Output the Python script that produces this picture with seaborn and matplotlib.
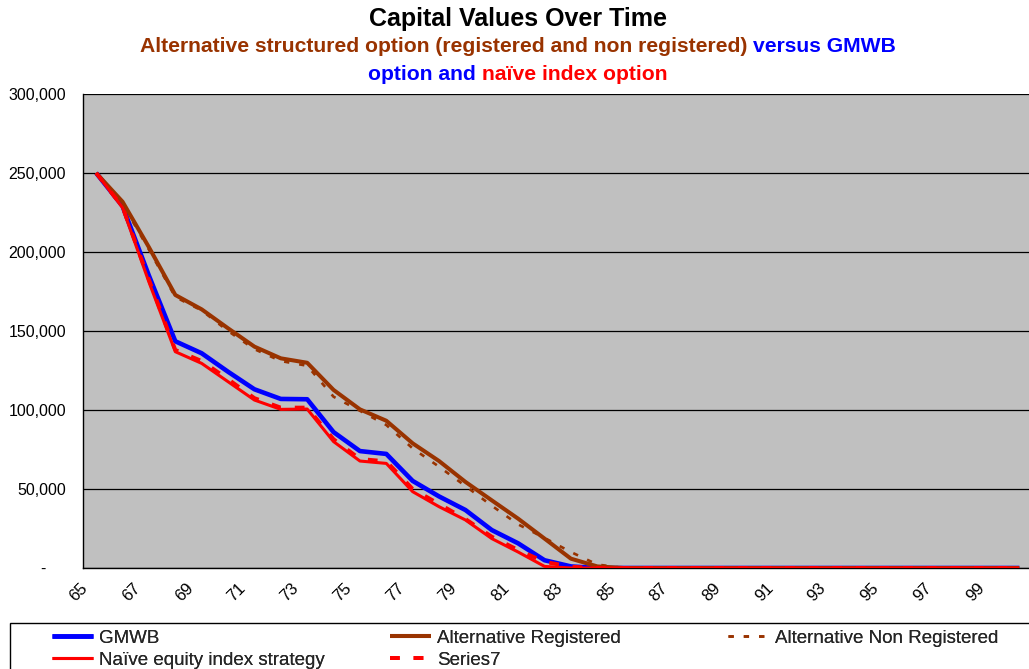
import matplotlib
matplotlib.use("Agg")
import matplotlib.pyplot as plt
import numpy as np
import pandas as pd
import seaborn as sns
from matplotlib.transforms import ScaledTranslation
from matplotlib.patches import Rectangle
from matplotlib.ticker import FixedLocator, FuncFormatter

# ---------------- data ----------------
ages = [65, 66, 67, 68, 69, 70, 71, 72, 73, 74, 75, 76, 77, 78, 79, 80, 81, 82,
        83, 84, 85, 86, 87, 88, 89, 90, 91, 92, 93, 94, 95, 96, 97, 98, 99, 100]

gmwb = [250000, 229000, 185000, 143500, 135900, 124200, 113100, 107000, 106800,
        86000, 74000, 72200, 55100, 45300, 36700, 24000, 15600, 4900, 1000,
        0, 0, 0, 0, 0, 0, 0, 0, 0, 0, 0, 0, 0, 0, 0, 0, 0]

alt_registered = [250000, 231800, 203000, 172800, 163700, 151700, 140100, 132700,
                  129900, 112700, 100400, 93200, 78900, 67700, 54500, 42800, 31200,
                  18600, 5900, 1000,
                  0, 0, 0, 0, 0, 0, 0, 0, 0, 0, 0, 0, 0, 0, 0, 0]

alt_non_registered = [250000, 230500, 201500, 171500, 163000, 150000, 138500, 131000,
                      128000, 108400, 99500, 90500, 75700, 64100, 51900, 39400, 27600,
                      19000, 10100, 2200,
                      0, 0, 0, 0, 0, 0, 0, 0, 0, 0, 0, 0, 0, 0, 0, 0]

naive = [250000, 228000, 181000, 136900, 129500, 117900, 106300, 100400, 100600,
         80000, 67700, 66200, 48300, 38800, 30400, 18600, 10100, 1000,
         0, 0, 0, 0, 0, 0, 0, 0, 0, 0, 0, 0, 0, 0, 0, 0, 0, 0]

series7 = [250000, 228500, 182500, 138000, 131000, 119500, 107500, 101500, 101500,
           81500, 69000, 67500, 50000, 40500, 31000, 19800, 11400, 3900, 800,
           0, 0, 0, 0, 0, 0, 0, 0, 0, 0, 0, 0, 0, 0, 0, 0, 0]

series_names = ["GMWB", "Alternative Registered", "Alternative Non Registered",
                "Naïve equity index strategy", "Series7"]
series_values = [gmwb, alt_registered, alt_non_registered, naive, series7]

y_ticks = [0, 50000, 100000, 150000, 200000, 250000, 300000]
x_label_ages = [65, 67, 69, 71, 73, 75, 77, 79, 81, 83, 85, 87, 89, 91, 93, 95, 97, 99]

title = "Capital Values Over Time"
subtitle_line1 = [("Alternative structured option (registered and non registered)", "#993300"),
                  ("versus GMWB", "#0000FF")]
subtitle_line2 = [("option and", "#0000FF"), ("naïve index option", "#FF0000")]

# ---------------- styles ----------------
BLUE, BROWN, RED = "#0000FF", "#993300", "#FF0000"
styles = {
    "GMWB": dict(color=BLUE, lw=3.3, ls="-"),
    "Alternative Registered": dict(color=BROWN, lw=2.9, ls="-"),
    "Alternative Non Registered": dict(color=BROWN, lw=1.9, ls=(0, (3.8, 7.2))),
    "Naïve equity index strategy": dict(color=RED, lw=2.2, ls="-"),
    "Series7": dict(color=RED, lw=2.8, ls=(0, (7.0, 10.0))),
}

sns.set_style("white")
plt.rcParams["font.family"] = ["Liberation Sans", "DejaVu Sans"]
plt.rcParams["lines.scale_dashes"] = False
plt.rcParams["lines.solid_joinstyle"] = "round"
plt.rcParams["lines.solid_capstyle"] = "butt"

W, H = 1029, 669
fig = plt.figure(figsize=(W / 100, H / 100), dpi=100)
fig.patch.set_facecolor("white")

# axes spanning past the right edge (cropped like the reference)
ax_left, ax_right, ax_top, ax_bottom = 83, 1032.5, 94, 568
ax = fig.add_axes([ax_left / W, (H - ax_bottom) / H,
                   (ax_right - ax_left) / W, (ax_bottom - ax_top) / H])
ax.set_facecolor("#C0C0C0")

df = pd.DataFrame({
    "Age": ages * len(series_names),
    "Value": [v for vals in series_values for v in vals],
    "Series": [n for n, vals in zip(series_names, series_values) for _ in vals],
})

lines = {}
for name in series_names:
    st = styles[name]
    sub = df[df["Series"] == name]
    sns.lineplot(data=sub, x="Age", y="Value", ax=ax, color=st["color"],
                 linewidth=st["lw"], linestyle=st["ls"], label=name, legend=False,
                 zorder=3)
    lines[name] = ax.lines[-1]

ax.set_xlim(64.5, 100.5)
ax.set_ylim(0, 300000)
ax.set_xlabel("")
ax.set_ylabel("")

# grid
ax.set_axisbelow(True)
ax.yaxis.grid(True, color="#000000", linewidth=0.9)
ax.xaxis.grid(False)

for sp in ["top", "right"]:
    ax.spines[sp].set_visible(False)
for sp in ["left", "bottom"]:
    ax.spines[sp].set_color("black")
    ax.spines[sp].set_linewidth(1.0)

# y axis
ax.yaxis.set_major_locator(FixedLocator(y_ticks))
ax.yaxis.set_major_formatter(FuncFormatter(lambda v, p: "-" if v == 0 else f"{int(v):,}"))
ax.tick_params(axis="y", which="major", direction="out", length=3.6, width=1,
               color="black", pad=8.6, labelsize=11.5, labelcolor="black")
for lab in ax.get_yticklabels():
    if lab.get_text() == "-":
        lab.set_transform(lab.get_transform() + ScaledTranslation(-20 / 100, 0, fig.dpi_scale_trans))

# x axis: labels at category centres, tick marks between categories
ax.xaxis.set_major_locator(FixedLocator(x_label_ages))
ax.xaxis.set_major_formatter(FuncFormatter(lambda v, p: f"{int(round(v))}"))
ax.xaxis.set_minor_locator(FixedLocator([a - 0.5 for a in ages] + [ages[-1] + 0.5]))
ax.tick_params(axis="x", which="major", length=0, pad=12.5, labelsize=12,
               labelcolor="black")
ax.tick_params(axis="x", which="minor", direction="out", length=3.6, width=1,
               color="black")
for lab in ax.get_xticklabels():
    lab.set_rotation(45)
    lab.set_ha("right")
    lab.set_va("center")
    lab.set_rotation_mode("anchor")
    lab.set_transform(lab.get_transform() + ScaledTranslation(-11 / 100, 0, fig.dpi_scale_trans))

# ---------------- titles ----------------
renderer = fig.canvas.get_renderer()


def centered_pieces(pieces, baseline_px, size, cx=518):
    texts = []
    for s, c in pieces:
        t = fig.text(0, 1 - baseline_px / H, s, color=c, fontsize=size,
                     fontweight="bold", ha="left", va="baseline")
        texts.append(t)
    widths = [t.get_window_extent(renderer).width for t in texts]
    gap = 0.278 * size * 100 / 72
    total = sum(widths) + gap * (len(texts) - 1)
    x = cx - total / 2
    for t, w in zip(texts, widths):
        t.set_x(x / W)
        x += w + gap


centered_pieces([(title, "black")], 26, 18)
centered_pieces(subtitle_line1, 52, 15.2)
centered_pieces(subtitle_line2, 79.5, 15.2)

# ---------------- legend ----------------
frame = Rectangle((10 / W, -0.2), 1.2, (H - 623) / H + 0.2, transform=fig.transFigure,
                  fill=False, edgecolor="black", linewidth=1.0, clip_on=False)
fig.add_artist(frame)

leg_font = 13.5
leg_kw = dict(loc="upper left", frameon=False, fontsize=leg_font, borderpad=0,
              borderaxespad=0, handlelength=2.2, handletextpad=0.3,
              labelspacing=0.28)
columns = [(["GMWB", "Naïve equity index strategy"], 52),
           (["Alternative Registered", "Series7"], 390),
           (["Alternative Non Registered"], 728)]
for names, xpx in columns:
    lg = fig.legend([lines[n] for n in names], names,
                    bbox_to_anchor=(xpx / W, 1 - 629.5 / H), **leg_kw)
    fig.add_artist(lg)

fig.savefig("out.png", dpi=100, facecolor="white")
